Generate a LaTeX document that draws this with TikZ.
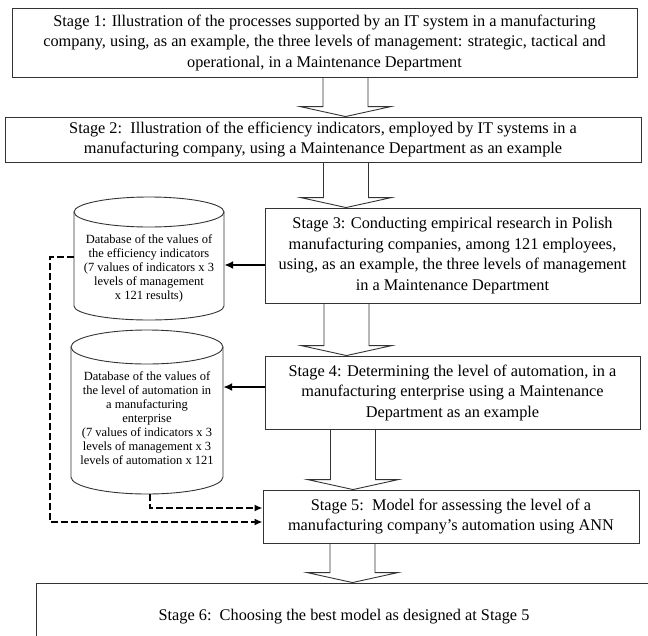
\documentclass[tikz,border=0pt]{standalone}
\usepackage{fontspec}
\setmainfont{Liberation Serif}
\usetikzlibrary{arrows.meta,calc}
\tikzset{
  stagebox/.style={draw=black!80, line width=0.9pt, align=center, inner sep=0pt,
    font=\fontsize{16.3}{20.5}\selectfont},
  dbtext/.style={align=center, inner sep=0pt, font=\fontsize{12.5}{14}\selectfont},
  cylline/.style={draw=black!80, line width=0.9pt},
  blockline/.style={draw=black!80, line width=0.9pt},
  solidarrow/.style={line width=2pt, -{Latex[length=9pt,width=8pt]}},
  dasharrow/.style={line width=1.6pt, dash pattern=on 7pt off 3pt, -{Latex[length=8pt,width=7pt]}}
}
\newcommand\blockarr[3]{%
  \draw[blockline] let \p1=(#2.south), \p2=(#3.north) in
    (#1-22.5,\y1) -- (#1-22.5,\y2+10) -- (#1-45.5,\y2+10) -- (#1,\y2)
    -- (#1+45.5,\y2+10) -- (#1+22.5,\y2+10) -- (#1+22.5,\y1);}
\begin{document}
\begin{tikzpicture}[x=1pt,y=1pt]
\useasboundingbox (0,0) rectangle (648,-635);
% stages
\node[stagebox, minimum width=625pt, minimum height=69pt] (s1) at (324.5,-42.5)
  {Stage 1: Illustration of the processes supported by an IT system in a manufacturing\\
   company, using, as an example, the three levels of management: strategic, tactical and\\
   operational, in a Maintenance Department};
\node[stagebox, minimum width=636pt, minimum height=45pt] (s2) at (323,-139.5)
  {Stage 2:\ \ Illustration of the efficiency indicators, employed by IT systems in a\\
   manufacturing company, using a Maintenance Department as an example};
\node[stagebox, minimum width=375pt, minimum height=95pt] (s3) at (452.5,-255.5)
  {Stage 3: Conducting empirical research in Polish\\
   manufacturing companies, among 121 employees,\\
   using, as an example, the three levels of management\\
   in a Maintenance Department};
\node[stagebox, minimum width=375pt, minimum height=73pt] (s4) at (452.5,-392.5)
  {Stage 4: Determining the level of automation, in a\\
   manufacturing enterprise using a Maintenance\\
   Department as an example};
\node[stagebox, minimum width=376pt, minimum height=53pt] (s5) at (451,-516.5)
  {Stage 5:\ \ Model for assessing the level of a\\
   manufacturing company’s automation using ANN};
\node[stagebox, minimum width=616pt, minimum height=68pt] (s6) at (344,-617)
  {Stage 6:\ \ Choosing the best model as designed at Stage 5};
% block arrows
\blockarr{345.5}{s1}{s2}
\blockarr{346}{s2}{s3}
\blockarr{346.5}{s3}{s4}
\blockarr{353}{s4}{s5}
\blockarr{352.5}{s5}{s6}
% cylinder 1
\draw[cylline] (149,-212) ellipse[x radius=75pt, y radius=15pt];
\draw[cylline] (74,-212) -- (74,-306) arc[start angle=180, end angle=360, x radius=75pt, y radius=14pt] -- (224,-212);
\node[inner sep=0pt, minimum width=150pt, minimum height=123pt] (cyl1) at (149,-258.5) {};
\node[dbtext] (db1) at (149,-268)
  {Database of the values of\\ the efficiency indicators\\ (7 values of indicators x 3\\
   levels of management\\ x 121 results)};
% cylinder 2
\draw[cylline] (147,-347) ellipse[x radius=76pt, y radius=17pt];
\draw[cylline] (71,-347) -- (71,-477) arc[start angle=180, end angle=360, x radius=76pt, y radius=17pt] -- (223,-347);
\node[inner sep=0pt, minimum width=152pt, minimum height=164pt] (cyl2) at (147,-412) {};
\node[dbtext] (db2) at (147,-418)
  {Database of the values of\\ the level of automation in\\ a manufacturing\\ enterprise\\
   (7 values of indicators x 3\\ levels of management x 3\\ levels of automation x 121};
% solid arrows
\draw[solidarrow] (s3.west |- 0,-265) -- (cyl1.east |- 0,-265);
\draw[solidarrow] (s4.west |- 0,-387) -- (cyl2.east |- 0,-387);
% dashed arrows
\coordinate (d1a) at (50,-257);
\coordinate (d1b) at (50,-522);
\coordinate (d2a) at (150,-508);
\draw[dasharrow] (cyl1.west |- d1a) -- (d1a) -- (d1b) -- (s5.west |- d1b);
\draw[dasharrow] (cyl2.south -| d2a) -- (d2a) -- (s5.west |- d2a);
\end{tikzpicture}
\end{document}
